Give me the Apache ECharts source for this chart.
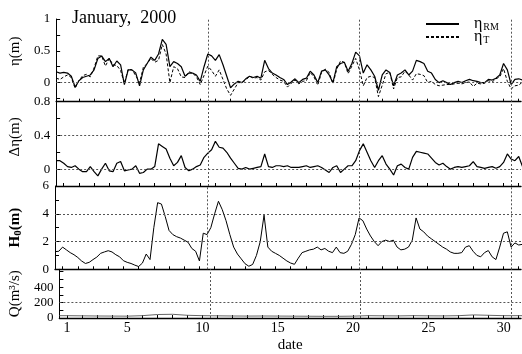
<!DOCTYPE html>
<html><head><meta charset="utf-8">
<script src="https://cdn.jsdelivr.net/npm/echarts@6/dist/echarts.min.js"></script>
<style>html,body{margin:0;padding:0;background:#fff}#c{width:522px;height:354px}</style>
</head><body><div id="c"></div>
<script>
// time grid: days, 6-hourly from 0.5 to 31.25
const times = [];
for (let i = 0; i < 124; i++) times.push(0.5 + i * 0.25);
const dayTicks = [];
for (let d = 1; d <= 31; d++) dayTicks.push(d);
const dayLabels = [1, 5, 10, 15, 20, 25, 30];
const markerDays = [10.5, 20.5, 30.5];

const etaRM = [0.17,0.15,0.16,0.15,0.1,-0.07,0.03,0.08,0.1,0.12,
0.2,0.38,0.42,0.33,0.38,0.25,0.34,0.28,-0.03,0.2,
0.2,0.15,-0.05,0.2,0.3,0.4,0.35,0.45,0.68,0.6,
0.25,0.33,0.3,0.25,0.1,0.15,0.15,0.12,0.02,0.25,
0.45,0.42,0.35,0.44,0.28,0.1,-0.08,-0.02,0.02,0.0,
0.06,0.1,0.08,0.1,0.07,0.35,0.22,0.15,0.12,0.08,
0.05,-0.03,0.01,0.06,0.0,0.05,0.07,0.18,0.12,0.0,
0.18,0.2,0.12,0.0,0.25,0.3,0.32,0.18,0.3,0.48,
0.42,0.15,0.28,0.2,0.1,-0.12,0.12,0.2,0.16,-0.05,
0.12,0.15,0.2,0.12,0.18,0.35,0.33,0.3,0.18,0.15,
0.05,0.0,0.03,0.0,-0.03,0.0,0.02,0.0,0.03,0.05,
0.03,0.02,0.0,0.0,0.05,0.04,0.07,0.12,0.3,0.2,
-0.03,0.05,0.06,0.04];

const etaT = [0.07,0.05,0.09,0.12,0.08,-0.09,0.03,0.11,0.13,0.09,
0.23,0.42,0.42,0.26,0.38,0.28,0.27,0.19,-0.01,0.21,
0.2,0.11,0.0,0.24,0.3,0.38,0.32,0.35,0.6,0.45,
0.0,0.25,0.22,0.09,0.08,0.17,0.15,0.09,-0.03,0.11,
0.26,0.19,0.1,0.2,0.05,-0.1,-0.2,-0.1,0.0,0.0,
0.04,0.1,0.07,0.08,0.04,0.17,0.19,0.13,0.08,0.04,
0.02,-0.07,-0.01,0.04,-0.02,0.02,0.03,0.16,0.09,-0.04,
0.16,0.21,0.16,-0.02,0.21,0.34,0.32,0.14,0.26,0.38,
0.2,-0.05,0.08,0.1,0.08,-0.22,-0.04,0.14,0.16,-0.1,
0.08,0.09,0.18,0.12,0.04,0.14,0.13,0.11,0.0,0.02,
-0.03,-0.05,-0.04,-0.03,-0.03,-0.02,-0.01,-0.02,0.0,0.01,
-0.06,-0.01,-0.02,-0.01,0.03,0.01,0.06,0.09,0.22,0.02,
-0.1,-0.05,-0.04,0.01];

const dEta = [0.1,0.1,0.07,0.03,0.02,0.04,0.0,-0.03,-0.03,0.03,
-0.03,-0.08,0.0,0.07,-0.02,-0.03,0.07,0.09,-0.02,-0.01,
0.0,0.04,-0.05,-0.04,0.0,0.0,0.03,0.3,0.27,0.24,
0.13,0.04,0.08,0.16,0.02,-0.02,0.0,0.03,0.05,0.14,
0.19,0.23,0.33,0.26,0.25,0.2,0.13,0.07,0.01,0.0,
0.02,0.0,0.01,0.02,0.03,0.18,0.03,0.02,0.04,0.04,
0.03,0.04,0.02,0.02,0.02,0.03,0.04,0.02,0.03,0.04,
0.02,-0.01,-0.04,0.02,0.04,-0.04,0.0,0.04,0.04,0.1,
0.22,0.3,0.2,0.1,0.02,0.1,0.16,0.06,0.0,-0.07,
0.04,0.06,0.02,0.0,0.14,0.21,0.2,0.19,0.18,0.13,
0.08,0.05,0.07,0.03,0.0,0.02,0.03,0.02,0.03,0.04,
0.09,0.03,0.02,0.01,0.02,0.03,0.01,0.03,0.08,0.18,
0.12,0.1,0.15,0.03];

const H0 = [1.27,1.3,1.6,1.4,1.2,1.05,0.85,0.6,0.42,0.5,
0.7,0.88,1.15,1.25,1.34,1.25,1.05,0.9,0.62,0.5,
0.42,0.3,0.2,0.45,1.1,0.7,3.0,4.8,4.7,3.8,
2.8,2.5,2.35,2.25,2.1,1.95,1.5,1.3,0.6,2.6,
2.5,3.0,4.0,4.9,4.3,3.5,2.5,1.6,1.1,0.75,
0.4,0.22,0.35,1.0,2.0,3.9,1.6,1.3,1.15,1.0,
0.8,0.6,0.45,0.36,0.8,1.2,1.3,1.4,1.45,1.6,
1.4,1.5,1.3,1.2,1.6,1.2,1.15,1.3,1.8,2.5,
3.7,3.5,2.9,2.4,2.0,1.7,2.0,2.1,2.0,2.1,
1.6,1.4,1.45,1.6,2.1,3.7,2.9,2.7,2.4,2.2,
2.0,1.8,1.6,1.45,1.25,1.15,1.15,1.2,1.6,1.7,
1.3,1.0,0.9,1.2,1.35,0.9,0.7,1.6,2.6,2.7,
1.6,1.9,1.75,1.8];

const qDays = [0.5,1,2,3,4,5,6,7,8,9,10,11,12,13,14,15,16,17,18,19,20,21,22,23,24,25,26,27,28,29,30,31,31.25];
const Q = [30,30,28,26,25,24,30,45,48,35,30,28,26,25,26,25,24,23,22,22,24,30,28,27,30,28,27,30,40,35,30,30,30];

const etaLabels = [0, 0.5, 1];
const etaTicks = [-0.25, 0, 0.25, 0.5, 0.75, 1];
const dEtaLabels = [0, 0.4, 0.8];
const dEtaTicks = [-0.2, 0, 0.2, 0.4, 0.6, 0.8];
const hLabels = [0, 2, 4, 6];
const hTicks = [0, 1, 2, 3, 4, 5, 6];
const qLabels = [0, 200, 400];
const qTicks = [0, 100, 200, 300, 400, 500, 600];

const pair = (xs, ys) => xs.map((x, i) => [x, ys[i]]);
const FONT = 'Liberation Serif';
const dotted = {color: '#555', type: [2, 2], width: 1};

function xAx(i, last) {
  return {
    gridIndex: i, type: 'value', min: 0.5, max: 31.15,
    splitLine: {show: false},
    axisLine: {show: true, onZero: false, lineStyle: {color: '#000', width: 1.4}},
    axisTick: {show: true, inside: true, length: 3, customValues: dayTicks, lineStyle: {color: '#000'}},
    axisLabel: last ? {show: true, customValues: dayLabels, color: '#000', fontFamily: FONT, fontSize: 14, margin: 3} : {show: false},
    name: last ? 'date' : '', nameLocation: 'middle', nameGap: 20,
    nameTextStyle: {fontFamily: FONT, fontSize: 15, color: '#000'}
  };
}
function yAx(i, min, max, labels, ticks, name, rich, gap, shift) {
  return {
    gridIndex: i, type: 'value', min: min, max: max,
    splitLine: {show: false},
    axisLine: {show: true, onZero: false, lineStyle: {color: '#000', width: 1}},
    axisTick: {show: true, inside: true, length: 4, customValues: ticks, lineStyle: {color: '#000'}},
    axisLabel: {customValues: labels, color: '#000', fontFamily: FONT, fontSize: 13, margin: 6},
    name: name, nameLocation: 'middle', nameRotate: 90, nameGap: gap,
    nameTextStyle: {fontFamily: FONT, fontSize: 15, color: '#000', rich: rich, padding: [0, 0, 0, shift]}
  };
}
function ml(hVals) {
  return {
    silent: true, symbol: ['none', 'none'], label: {show: false}, lineStyle: dotted,
    data: hVals.map(v => ({yAxis: v})).concat(markerDays.map(d => ({xAxis: d})))
  };
}

const chart = echarts.init(document.getElementById('c'), null, {renderer: 'canvas'});
chart.setOption({
  animation: false,
  backgroundColor: '#fff',
  textStyle: {fontFamily: FONT},
  title: {text: 'January,  2000', left: 67, top: 4,
    textStyle: {fontFamily: FONT, fontSize: 18, fontWeight: 'normal', color: '#000'}},
  legend: {
    orient: 'vertical', left: 420, top: 11, itemWidth: 33, itemHeight: 10, itemGap: -3,
    data: ['RM', 'T'],
    itemStyle: {opacity: 0},
    formatter: n => '{e|η}{s|' + n + '}',
    textStyle: {color: '#000', rich: {
      e: {fontFamily: FONT, fontSize: 16, padding: [0, 0, 0, 10]},
      s: {fontFamily: FONT, fontSize: 10, padding: [6, 0, 0, 1]}
    }}
  },
  grid: [
    {left: 52, right: 1, top: 19, height: 82.7},
    {left: 52, right: 1, top: 101.7, height: 84.3},
    {left: 52, right: 1, top: 186, height: 83.3},
    {left: 52, right: 1, top: 269.3, height: 53.7}
  ],
  xAxis: [xAx(0, false), xAx(1, false), xAx(2, false), xAx(3, true)],
  yAxis: [
    yAx(0, -0.3, 1, etaLabels, etaTicks, 'η(m)', {}, 31, 18),
    yAx(1, -0.2, 0.8, dEtaLabels, dEtaTicks, 'Δη(m)', {}, 31, 14),
    yAx(2, 0, 6, hLabels, hTicks, '{b|H}{sb|0}{b|(m)}', {b: {fontFamily: FONT, fontSize: 15, fontWeight: 'bold'}, sb: {fontFamily: FONT, fontSize: 11, fontWeight: 'bold', padding: [6, 0, 0, 0]}}, 31, 0),
    yAx(3, 0, 630, qLabels, qTicks, 'Q(m³/s)', {}, 33, 0)
  ],
  series: [
    {name: 'RM', type: 'line', xAxisIndex: 0, yAxisIndex: 0, data: pair(times, etaRM), symbol: 'none',
      lineStyle: {color: '#000', width: 1.2}, itemStyle: {color: '#000'}, markLine: ml([0]), z: 3},
    {name: 'T', type: 'line', xAxisIndex: 0, yAxisIndex: 0, data: pair(times, etaT), symbol: 'none',
      lineStyle: {color: '#000', width: 1, type: [3, 2]}, itemStyle: {color: '#000'}, z: 2},
    {name: 'dEta', type: 'line', xAxisIndex: 1, yAxisIndex: 1, data: pair(times, dEta), symbol: 'none',
      lineStyle: {color: '#000', width: 1.2}, markLine: ml([0, 0.4])},
    {name: 'H0', type: 'line', xAxisIndex: 2, yAxisIndex: 2, data: pair(times, H0), symbol: 'none',
      lineStyle: {color: '#000', width: 1}, markLine: ml([2, 4])},
    {name: 'Q', type: 'line', xAxisIndex: 3, yAxisIndex: 3, data: pair(qDays, Q), symbol: 'none',
      lineStyle: {color: '#666', width: 1}, markLine: ml([200])}
  ]
});
</script></body></html>
